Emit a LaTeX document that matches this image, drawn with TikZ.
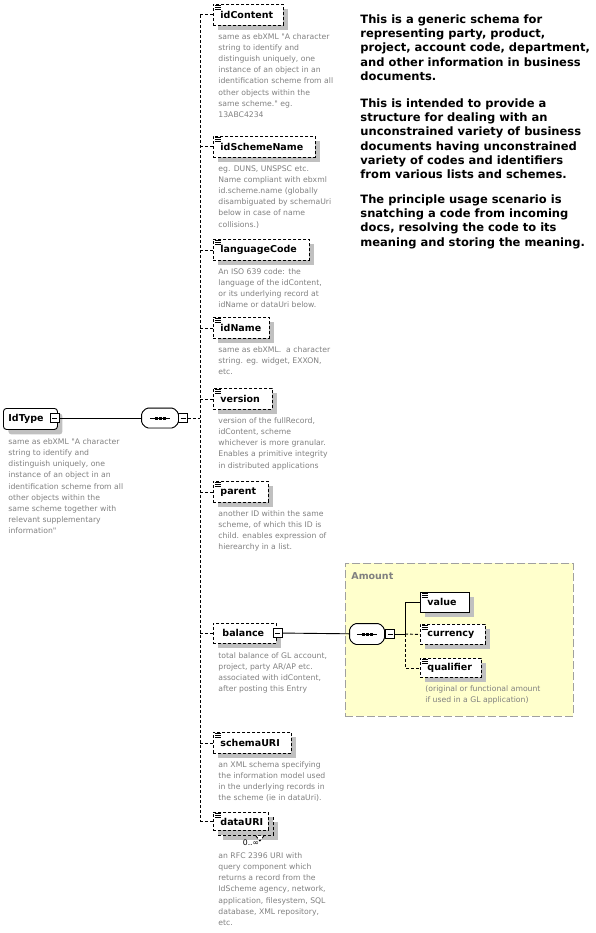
\documentclass[tikz,border=0pt]{standalone}
\usepackage{fontspec}
\setmainfont{DejaVu Sans}
\usepackage{tikz}
\usetikzlibrary{positioning, calc, shadows}

\definecolor{dsctxt}{HTML}{808080}
\definecolor{grpfill}{HTML}{FFFFCC}
\definecolor{grpline}{HTML}{A0A0A0}
\definecolor{shadowgray}{HTML}{C0C0C0}

\newcommand{\lblfont}{\fontsize{9.5}{11}\selectfont\bfseries}
\newcommand{\dscfont}{\fontsize{7.7}{11.2}\selectfont}
\newcommand{\notefont}{\fontsize{11.5}{14.3}\selectfont\bfseries}

% small "document" icon in the top left corner of an element box
\newcommand{\elemicon}[1]{%
  \foreach \k in {0,1,2} {\draw[line width=0.7pt] ($(#1.north west)+(2,1.5+2*\k)$) -- ++(6,0);}}

% sequence compositor drawn round an empty node
\newcommand{\seqshape}[1]{%
  \foreach \s/\c/\l in {5/shadowgray/shadowgray, 0/white/black} {
    \filldraw[fill=\c, draw=\l, rounded corners=1.5pt, shift={(\s,\s)}]
      ($(#1.north west)+(5,0)$) -- ($(#1.north east)+(-5,0)$) -- ($(#1.north east)+(0,5)$)
      -- ($(#1.south east)+(0,-5)$) -- ($(#1.south east)+(-5,0)$) -- ($(#1.south west)+(5,0)$)
      -- ($(#1.south west)+(0,-5)$) -- ($(#1.north west)+(0,5)$) -- cycle;}
  \draw ($(#1.center)+(-10,0)$) -- ($(#1.center)+(10,0)$);
  \foreach \d in {-4,0,4} \fill ($(#1.center)+(\d-1.5,-1.5)$) rectangle ++(3,3);}

\tikzset{
  shd/.style={drop shadow={shadow xshift=5pt, shadow yshift=-5pt, opacity=1, fill=shadowgray}},
  dsh/.style={dash pattern=on 3pt off 2pt},
  elem/.style={draw, fill=white, anchor=north west, inner xsep=0pt, inner ysep=0pt,
    minimum height=21pt, font=\lblfont, align=left, text width=#1, shd},
  optelem/.style={elem=#1, dsh},
  desc/.style={font=\dscfont, text=dsctxt, align=left, inner sep=0pt},
  minus/.style={draw, fill=white, minimum size=9pt, inner sep=0pt, line width=0.8pt,
    path picture={\draw ([xshift=2pt]path picture bounding box.west) -- ([xshift=-2pt]path picture bounding box.east);}},
  seqbox/.style={minimum width=36pt, minimum height=19pt, inner sep=0pt},
  grp/.style={draw=grpline, fill=grpfill, dash pattern=on 8pt off 3pt, anchor=north west, inner sep=0pt}
}

\begin{document}
\begin{tikzpicture}[x=1pt, y=-1pt, line width=0.9pt]
\useasboundingbox (0,0) rectangle (595,933);

% --- Root type ---
\node[elem=54pt, rounded corners=3pt] (root) at (3,408) {\hspace*{5pt}IdType};
\node[minus] (rootm) at (54.5,418) {};
\node[desc, below right=8pt and 5pt of root.south west] (rootd) {same as ebXML \textquotedbl A character\\string to identify and\\distinguish uniquely, one\\instance of an object in an\\identification scheme from all\\other objects within the\\same scheme together with\\relevant supplementary\\information\textquotedbl};

% --- Sequence ---
\node[seqbox] (seq) at (160,418) {};
\seqshape{seq}
\node[minus] (seqm) at (183,418) {};
\draw (rootm) -- (seq);

% --- Children ---
\node[optelem=70pt] (cont) at (213,4) {\hspace*{7pt}idContent};
\node[optelem=102pt] (schm) at (213,136) {\hspace*{7pt}idSchemeName};
\node[optelem=96pt] (lang) at (213,239) {\hspace*{7pt}languageCode};
\node[optelem=56pt] (idnm) at (213,317) {\hspace*{7pt}idName};
\node[optelem=59pt] (vers) at (213,388) {\hspace*{7pt}version};
\node[optelem=55pt] (prnt) at (213,481) {\hspace*{7pt}parent};
\node[optelem=63pt, minimum height=20pt] (bal) at (213,623) {\hspace*{9pt}balance};
\node[minus] (balm) at (277.5,633) {};
\node[optelem=78pt] (schu) at (213,732) {\hspace*{7pt}schemaURI};
% dataURI is repeatable: two stacked boxes
\node[optelem=55pt, minimum height=18pt] (datb) at (218,817) {};
\draw[dsh, fill=white] ($(datb.south east)+(-18,0)$) -- ++(4,5) -- ++(4,-5);
\node[optelem=55pt, minimum height=18pt, drop shadow={opacity=0}] (dat) at (213,812) {\hspace*{7pt}dataURI};
\node[font=\dscfont, inner sep=0pt] (datn) at (251,843) {0..∞};

\foreach \n in {cont,schm,lang,idnm,vers,prnt,schu,dat} {\elemicon{\n}}

% spine
\coordinate (spine) at (200,0);
\draw[dsh] (seqm) -- (spine |- seqm);
\draw[dsh] (spine |- cont.west) -- (spine |- dat.west);
\foreach \n in {cont,schm,lang,idnm,vers,prnt,bal,schu,dat} {\draw[dsh] (spine |- \n.west) -- (\n.west);}

% --- Descriptions ---
\node[desc, below right=7pt and 5pt of cont.south west] {same as ebXML \textquotedbl A character\\string to identify and\\distinguish uniquely, one\\instance of an object in an\\identification scheme from all\\other objects within the\\same scheme.\textquotedbl\ eg.\\13ABC4234};
\node[desc, below right=7pt and 5pt of schm.south west] {eg. DUNS, UNSPSC etc.\\Name compliant with ebxml\\id.scheme.name (globally\\disambiguated by schemaUri\\below in case of name\\collisions.)};
\node[desc, below right=7pt and 5pt of lang.south west] {An ISO 639 code: the\\language of the idContent,\\or its underlying record at\\idName or dataUri below.};
\node[desc, below right=7pt and 5pt of idnm.south west] {same as ebXML.\ \ a character\\string. eg. widget, EXXON,\\etc.};
\node[desc, below right=7pt and 5pt of vers.south west] {version of the fullRecord,\\idContent, scheme\\whichever is more granular.\\Enables a primitive integrity\\in distributed applications};
\node[desc, below right=7pt and 5pt of prnt.south west] {another ID within the same\\scheme, of which this ID is\\child. enables expression of\\hierearchy in a list.};
\node[desc, below right=8pt and 5pt of bal.south west] {total balance of GL account,\\project, party AR/AP etc.\\associated with idContent,\\after posting this Entry};
\node[desc, below right=7pt and 5pt of schu.south west] {an XML schema specifying\\the information model used\\in the underlying records in\\the scheme (ie in dataUri).};
\node[desc, anchor=north west] at (218,852) {an RFC 2396 URI with\\query component which\\returns a record from the\\IdScheme agency, network,\\application, filesystem, SQL\\database, XML repository,\\etc.};

% --- Amount group ---
\node[grp, minimum width=228pt, minimum height=153pt] (amt) at (345,563) {};
\node[anchor=north west, font=\lblfont, text=dsctxt, inner sep=0pt] (amtt) at (351,572) {Amount};
\node[seqbox, minimum width=34pt, minimum height=20pt] (aseq) at (367,634) {};
\seqshape{aseq}
\node[minus] (aseqm) at (390,634) {};
\draw (balm) -- (aseq);
\node[elem=49pt, minimum height=20pt] (val) at (420,592) {\hspace*{7pt}value};
\node[optelem=65pt, minimum height=20pt] (cur) at (420,624) {\hspace*{7pt}currency};
\node[optelem=61pt, minimum height=19pt] (qua) at (420,658) {\hspace*{7pt}qualifier};
\foreach \n in {val,cur,qua} {\elemicon{\n}}
\coordinate (br) at (405,634);
\draw (aseqm) -- (br) |- (val.west);
\draw[dsh] (br) -- (cur.west);
\draw[dsh] (br) |- (qua.west);
\node[desc, below right=7pt and 5pt of qua.south west] {(original or functional amount\\if used in a GL application)};

% --- Annotation ---
\node[anchor=north west, font=\notefont, align=left, inner sep=0pt] (note1) at (360,14) {This is a generic schema for\\representing party, product,\\project, account code, department,\\and other information in business\\documents.};
\node[anchor=north west, font=\notefont, align=left, inner sep=0pt] (note2) at (360,98) {This is intended to provide a\\structure for dealing with an\\unconstrained variety of business\\documents having unconstrained\\variety of codes and identifiers\\from various lists and schemes.};
\node[anchor=north west, font=\notefont, align=left, inner sep=0pt] (note3) at (360,194) {The principle usage scenario is\\snatching a code from incoming\\docs, resolving the code to its\\meaning and storing the meaning.};

\end{tikzpicture}
\end{document}
